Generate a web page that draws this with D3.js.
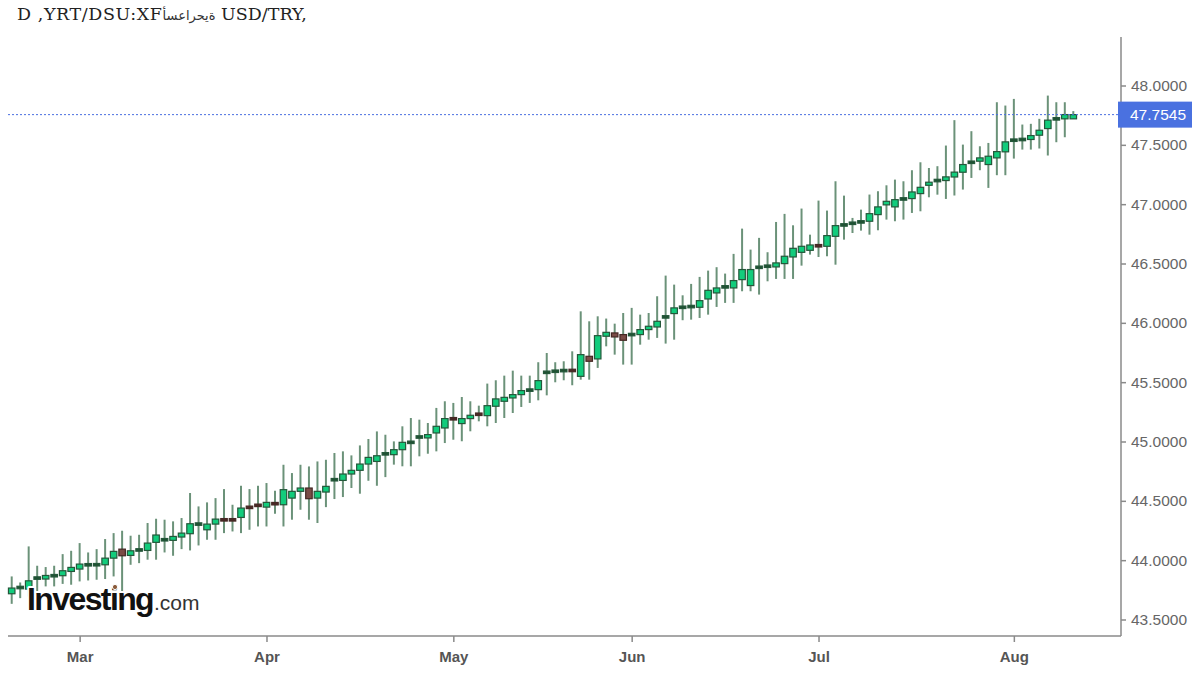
<!DOCTYPE html>
<html><head><meta charset="utf-8">
<script src="https://cdn.jsdelivr.net/npm/d3@7"></script>
<style>
html,body{margin:0;padding:0;background:#fff;}
body{position:relative;width:1200px;height:675px;overflow:hidden;}
svg{display:block;position:absolute;left:0;top:0;}
.title{position:absolute;left:17px;top:6px;font-family:'DejaVu Serif','Liberation Serif',serif;font-size:17.5px;line-height:17.5px;color:#222;white-space:pre;z-index:2;}
.title .ar{font-family:'DejaVu Sans',sans-serif;font-size:13px;color:#333;}
.title .la{letter-spacing:0.6px;}
</style></head>
<body>
<script>
// ---- data (daily candles, index-based) ----
const opens  = [43.717,43.767,43.756,43.847,43.841,43.868,43.869,43.905,43.925,43.960,43.960,43.961,44.017,44.093,44.040,44.079,44.082,44.150,44.171,44.167,44.195,44.223,44.303,44.256,44.304,44.342,44.342,44.360,44.446,44.463,44.447,44.477,44.467,44.523,44.580,44.608,44.523,44.574,44.677,44.672,44.726,44.757,44.810,44.832,44.895,44.889,44.931,44.992,45.037,45.030,45.072,45.114,45.193,45.151,45.193,45.231,45.218,45.297,45.339,45.367,45.395,45.423,45.437,45.582,45.591,45.589,45.600,45.549,45.718,45.696,45.887,45.915,45.901,45.900,45.901,45.943,45.965,46.049,46.078,46.130,46.136,46.131,46.201,46.252,46.302,46.294,46.364,46.314,46.467,46.476,46.471,46.499,46.555,46.594,46.611,46.651,46.645,46.729,46.824,46.838,46.842,46.856,46.912,46.994,46.977,47.043,47.047,47.089,47.159,47.198,47.199,47.229,47.269,47.352,47.362,47.334,47.390,47.441,47.538,47.544,47.545,47.581,47.637,47.718,47.719,47.719];
const highs  = [43.863,43.812,44.116,43.953,43.942,43.953,44.051,44.079,44.144,44.065,44.093,44.178,44.228,44.248,44.206,44.214,44.313,44.349,44.341,44.327,44.355,44.566,44.453,44.487,44.523,44.599,44.467,44.627,44.599,44.627,44.650,44.585,44.804,44.734,44.804,44.790,44.832,44.846,44.903,44.917,44.883,44.967,45.021,45.085,45.057,45.001,45.128,45.198,45.184,45.156,45.283,45.339,45.325,45.375,45.339,45.302,45.488,45.516,45.555,45.597,45.555,45.555,45.668,45.746,45.668,45.676,45.760,46.097,46.013,46.055,46.036,45.993,46.083,46.126,46.069,46.083,46.224,46.398,46.322,46.232,46.328,46.387,46.440,46.469,46.415,46.581,46.794,46.617,46.716,46.595,46.850,46.918,46.822,46.963,46.743,47.030,46.946,47.193,47.072,46.884,46.954,47.081,47.109,47.159,47.207,47.193,47.286,47.353,47.305,47.320,47.494,47.708,47.502,47.615,47.488,47.516,47.859,47.831,47.887,47.671,47.677,47.719,47.915,47.859,47.859,47.784];
const lows   = [43.632,43.680,43.694,43.720,43.779,43.779,43.800,43.793,43.821,43.829,43.835,43.841,43.863,43.725,43.961,43.975,44.004,44.004,44.065,44.037,44.093,44.082,44.124,44.172,44.172,44.228,44.242,44.228,44.256,44.284,44.284,44.391,44.284,44.341,44.425,44.341,44.313,44.447,44.515,44.532,44.608,44.560,44.669,44.627,44.700,44.805,44.791,44.791,44.875,44.897,44.917,44.987,45.015,45.002,45.086,45.170,45.128,45.156,45.198,45.240,45.291,45.325,45.347,45.389,45.499,45.516,45.474,45.521,45.521,45.620,45.802,45.732,45.648,45.648,45.816,45.858,45.873,45.825,45.858,46.022,46.027,46.041,46.069,46.134,46.168,46.168,46.266,46.266,46.238,46.350,46.370,46.370,46.370,46.482,46.575,46.555,46.561,46.490,46.701,46.757,46.777,46.743,46.780,46.870,46.856,46.870,46.926,46.940,47.058,47.080,47.044,47.073,47.123,47.221,47.286,47.137,47.244,47.244,47.384,47.460,47.460,47.469,47.410,47.522,47.564,47.719];
const closes = [43.765,43.772,43.826,43.851,43.871,43.870,43.911,43.939,43.967,43.962,43.963,44.017,44.074,44.037,44.079,44.093,44.144,44.212,44.173,44.200,44.228,44.307,44.305,44.304,44.346,44.338,44.338,44.439,44.444,44.461,44.487,44.475,44.594,44.580,44.608,44.518,44.580,44.622,44.679,44.726,44.757,44.810,44.866,44.880,44.897,44.931,44.993,44.994,45.039,45.058,45.128,45.193,45.190,45.193,45.221,45.228,45.302,45.359,45.372,45.395,45.429,45.443,45.513,45.584,45.593,45.606,45.597,45.732,45.676,45.892,45.920,45.881,45.853,45.902,45.943,45.971,46.013,46.051,46.126,46.132,46.138,46.187,46.274,46.294,46.304,46.356,46.449,46.449,46.469,46.478,46.505,46.561,46.628,46.645,46.656,46.648,46.735,46.819,46.826,46.840,46.859,46.920,46.977,47.024,47.038,47.045,47.103,47.142,47.185,47.200,47.230,47.270,47.334,47.354,47.390,47.404,47.443,47.525,47.540,47.546,47.578,47.623,47.708,47.720,47.755,47.7545];
const monthLabels = ["Mar","Apr","May","Jun","Jul","Aug"];
const monthStartIndex = [8,30,52,73,95,118];
const yTickValues = [43.5,44,44.5,45,45.5,46,46.5,47,47.5,48];
const lastPrice = 47.7545;
const titleLatinA = "D ,YRT/DSU:XF";
const titleArabic = "\u0623\u0633\u0639\u0627\u0631\u062D\u064A\u0629";
const titleLatinB = " USD/TRY,";

// ---- layout ----
const W = 1200, H = 675;
const plotLeft = 8, plotRight = 1121, plotTop = 37, plotBottom = 636;

// title (HTML, drawn left-to-right in stored order)
const titleBdo = d3.select("body").append("div").attr("class", "title")
  .append("bdo").attr("dir", "ltr");
titleBdo.append("span").attr("class", "la").text(titleLatinA);
titleBdo.append("span").attr("class", "ar").text(titleArabic);
titleBdo.append("span").text(titleLatinB);

const svg = d3.select("body").append("svg").attr("width", W).attr("height", H)
  .style("font-family", "'Liberation Sans', Arial, sans-serif");

const x = d3.scaleLinear().domain([0, opens.length - 1]).range([11.7, 1073.3]);
const y = d3.scaleLinear().domain([43.5, 48]).range([619.5, 85.5]);

// candles
const candles = opens.map((o, i) => ({i, o, h: highs[i], l: lows[i], c: closes[i]}));
const g = svg.append("g");
const bodyW = 6.5;

g.selectAll("line.wick").data(candles).join("line")
  .attr("class", "wick")
  .attr("x1", d => x(d.i)).attr("x2", d => x(d.i))
  .attr("y1", d => y(d.h)).attr("y2", d => y(d.l))
  .attr("stroke", "#4a7a5c").attr("stroke-opacity", 0.82).attr("stroke-width", 2);

g.selectAll("rect.body").data(candles).join("rect")
  .attr("class", "body")
  .attr("x", d => x(d.i) - bodyW / 2)
  .attr("width", bodyW)
  .attr("y", d => {
    const top = y(Math.max(d.o, d.c)), bot = y(Math.min(d.o, d.c));
    return (bot - top) < 2.5 ? (top + bot) / 2 - 1.25 : top;
  })
  .attr("height", d => Math.max(2.5, y(Math.min(d.o, d.c)) - y(Math.max(d.o, d.c))))
  .attr("fill", d => {
    const small = Math.abs(y(d.o) - y(d.c)) < 2.5;
    if (d.c >= d.o) return small ? "#1f5132" : "#12cc7c";
    return small ? "#4a2a26" : "#7a4c46";
  })
  .attr("stroke", d => d.c >= d.o ? "#24573a" : "#452824")
  .attr("stroke-width", 1.2);

// last price line
svg.append("line")
  .attr("x1", plotLeft).attr("x2", plotRight)
  .attr("y1", y(lastPrice)).attr("y2", y(lastPrice))
  .attr("stroke", "#4a6ee0").attr("stroke-width", 1).attr("stroke-dasharray", "2,2");

// axes
const axisColor = "#8a8a8a";
svg.append("line").attr("x1", plotRight).attr("x2", plotRight).attr("y1", plotTop).attr("y2", plotBottom)
  .attr("stroke", axisColor).attr("stroke-width", 1.5);
svg.append("line").attr("x1", plotLeft).attr("x2", plotRight).attr("y1", plotBottom).attr("y2", plotBottom)
  .attr("stroke", axisColor).attr("stroke-width", 1.5);

const yAxis = svg.append("g").attr("transform", `translate(${plotRight},0)`)
  .call(d3.axisRight(y).tickValues(yTickValues).tickFormat(d => d.toFixed(4)).tickSize(5).tickPadding(5));
yAxis.select(".domain").remove();
yAxis.selectAll(".tick line").attr("stroke", axisColor).attr("stroke-width", 1.5);
yAxis.selectAll(".tick text").attr("fill", "#666").attr("font-size", 15.5)
  .attr("font-family", "'Liberation Sans', Arial, sans-serif");

const xAxis = svg.append("g").attr("transform", `translate(0,${plotBottom})`)
  .call(d3.axisBottom(x).tickValues(monthStartIndex).tickFormat((d, i) => monthLabels[i]).tickSize(6).tickPadding(9));
xAxis.select(".domain").remove();
xAxis.selectAll(".tick line").attr("stroke", axisColor).attr("stroke-width", 1.5);
xAxis.selectAll(".tick text").attr("fill", "#555").attr("font-size", 15).attr("font-weight", "bold")
  .attr("font-family", "'Liberation Sans', Arial, sans-serif");

// last price tag
const tag = svg.append("g").attr("transform", `translate(1118,${y(lastPrice)})`);
tag.append("rect").attr("x", 0).attr("y", -13).attr("width", 74).attr("height", 26).attr("fill", "#4a71e0");
tag.append("text").attr("x", 12).attr("y", 0).attr("dy", "0.35em")
  .attr("fill", "#fff").attr("font-size", 15.5).text(lastPrice.toFixed(4));

// watermark logo
const logo = svg.append("g");
logo.append("text").attr("x", 27).attr("y", 610)
  .attr("font-size", 32).attr("font-weight", "bold").attr("letter-spacing", -1.6)
  .attr("fill", "#111").attr("stroke", "#fff").attr("stroke-width", 4)
  .attr("paint-order", "stroke").attr("stroke-linejoin", "round")
  .text("Investing");
logo.append("text").attr("x", 154).attr("y", 610)
  .attr("font-size", 21).attr("fill", "#333").attr("stroke", "#fff").attr("stroke-width", 3)
  .attr("paint-order", "stroke").attr("stroke-linejoin", "round")
  .text(".com");
logo.append("circle").attr("cx", 115).attr("cy", 587).attr("r", 2.6)
  .attr("fill", "#8a5a3a").attr("stroke", "#fff").attr("stroke-width", 1);
</script>
</body></html>
